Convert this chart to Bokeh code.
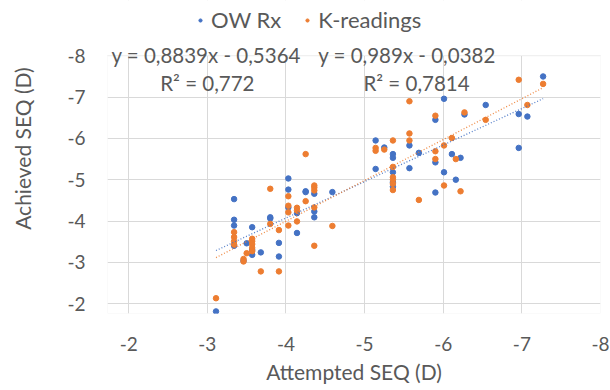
import math
from bokeh.plotting import figure
from bokeh.layouts import row
from bokeh.models import (Range1d, FixedTicker, Legend, LegendItem, Label, BoxAnnotation)
from bokeh.embed import file_html
from bokeh.resources import INLINE
import numpy as np

# ---- data ----
ow_x = [-3.11, -3.34, -3.34, -3.34, -3.34, -3.46, -3.50, -3.57, -3.57, -3.57, -3.68, -3.80, -3.80,
        -3.91, -3.91, -4.03, -4.03, -4.03, -4.14, -4.14, -4.25, -4.25, -4.36, -4.36, -4.36, -4.59,
        -5.14, -5.14, -5.25, -5.36, -5.36, -5.36, -5.36, -5.36, -5.57, -5.57, -5.69, -5.90, -5.90,
        -5.90, -6.01, -6.01, -6.11, -6.16, -6.22, -6.27, -6.54, -6.96, -6.96, -7.07, -7.27]
ow_y = [-1.81, -4.53, -4.03, -3.89, -3.40, -3.04, -3.46, -3.85, -3.30, -3.18, -3.24, -4.09, -4.06,
        -3.47, -3.14, -5.03, -4.76, -4.33, -4.19, -3.71, -4.72, -4.70, -4.66, -4.23, -4.09, -4.70,
        -5.95, -5.26, -5.78, -5.62, -5.53, -5.18, -4.94, -4.83, -5.83, -5.28, -5.65, -6.45, -5.42,
        -4.69, -6.96, -5.18, -5.62, -5.00, -5.53, -6.58, -6.81, -6.59, -5.77, -6.53, -7.50]

k_x = [-3.11, -3.34, -3.34, -3.34, -3.34, -3.46, -3.46, -3.50, -3.57, -3.57, -3.57, -3.57, -3.57,
       -3.68, -3.80, -3.80, -3.91, -3.91, -4.03, -4.03, -4.03, -4.03, -4.14, -4.14, -4.14, -4.25,
       -4.25, -4.36, -4.36, -4.36, -4.36, -4.36, -4.59, -5.14, -5.14, -5.25, -5.36, -5.36, -5.36,
       -5.36, -5.36, -5.36, -5.57, -5.57, -5.57, -5.69, -5.90, -5.90, -5.90, -6.01, -6.01, -6.11,
       -6.16, -6.22, -6.27, -6.54, -6.96, -7.07, -7.27]
k_y = [-2.13, -3.73, -3.61, -3.51, -3.43, -3.08, -3.02, -3.22, -3.57, -3.51, -3.44, -3.35, -3.27,
       -2.78, -4.78, -3.93, -3.78, -2.78, -4.60, -4.37, -4.21, -3.89, -4.32, -4.25, -3.99, -5.62,
       -4.48, -4.86, -4.81, -4.74, -4.33, -3.40, -3.88, -5.77, -5.70, -5.73, -5.95, -5.31, -5.06,
       -5.00, -4.90, -4.75, -6.90, -6.12, -5.95, -4.51, -6.55, -5.69, -5.50, -5.83, -4.86, -6.01,
       -5.50, -4.72, -6.63, -6.45, -7.42, -6.81, -7.32]

ow_slope, ow_intercept, ow_r2 = 0.8839, -0.5364, 0.772
k_slope, k_intercept, k_r2 = 0.989, -0.0382, 0.7814

x_ticks = [-2, -3, -4, -5, -6, -7, -8]
y_ticks = [-2, -3, -4, -5, -6, -7, -8]
tick_labels = ["-2", "-3", "-4", "-5", "-6", "-7", "-8"]

series_names = ["OW Rx", "K-readings"]
x_title = "Attempted SEQ (D)"
y_title = "Achieved SEQ (D)"

BLUE = "#4472C4"
ORANGE = "#ED7D31"
TXT = "#595959"
GRID = "#D9D9D9"
FONT = "Lato"

Y_TOP = -8.0  # top of the plotting area (axis maximum)

# ---- narrow strip carrying the vertical axis title (pixel coordinates, y down) ----
LW = 50
H = 390
side = figure(width=LW, height=H, output_backend="svg", toolbar_location=None,
              x_axis_location=None, y_axis_location=None,
              x_range=Range1d(0, LW), y_range=Range1d(H, 0),
              min_border_left=0, min_border_right=0, min_border_top=0, min_border_bottom=0)
side.grid.visible = False
side.outline_line_color = None
side.add_layout(Label(x=22, y=184.5, text=y_title,
                      angle=math.pi / 2, text_align="center", text_baseline="middle",
                      text_font=FONT, text_font_size="21px", text_color=TXT))

# ---- main chart ----
p = figure(width=610 - LW, height=H, output_backend="svg", toolbar_location=None,
           x_range=Range1d(-1.73, -8.0), y_range=Range1d(-1.76, -9.34))
p.min_border_left = 107 - LW
p.min_border_right = 10
p.min_border_top = 0
p.min_border_bottom = 77
p.outline_line_color = None
p.background_fill_color = "white"
p.border_fill_color = "white"

for ax, ticks in ((p.xaxis[0], x_ticks), (p.yaxis[0], y_ticks)):
    ax.ticker = FixedTicker(ticks=ticks)
    ax.major_label_overrides = {t: l for t, l in zip(ticks, tick_labels)}
    ax.axis_line_color = None
    ax.major_tick_line_color = None
    ax.minor_tick_line_color = None
    ax.major_tick_out = 0
    ax.major_tick_in = 0
    ax.minor_tick_out = 0
    ax.major_label_text_font = FONT
    ax.major_label_text_font_size = "19px"
    ax.major_label_text_color = TXT
    ax.axis_label_text_font = FONT
    ax.axis_label_text_font_size = "21px"
    ax.axis_label_text_font_style = "normal"
    ax.axis_label_text_color = TXT

p.xaxis.axis_label = x_title
p.xaxis.major_label_standoff = 23
p.yaxis.major_label_standoff = 22
p.xaxis.axis_label_standoff = 5

p.xgrid.ticker = FixedTicker(ticks=x_ticks)
p.ygrid.ticker = FixedTicker(ticks=y_ticks)
p.xgrid.grid_line_color = GRID
p.ygrid.grid_line_color = GRID

# white area above the plot area (legend / equation zone) and plot-area border
p.add_layout(BoxAnnotation(bottom=Y_TOP, fill_color="white", fill_alpha=1.0,
                           line_color=None, level="underlay"))
p.add_layout(BoxAnnotation(top=Y_TOP, fill_alpha=0.0, line_color=GRID,
                           line_width=1, level="underlay"))

r_ow = p.scatter(ow_x, ow_y, size=5.5, color=BLUE, line_color=BLUE)
r_k = p.scatter(k_x, k_y, size=5.5, color=ORANGE, line_color=ORANGE)

# trendlines (Excel linear trendline over data x extent)
for xs, slope, icpt, col in ((ow_x, ow_slope, ow_intercept, BLUE), (k_x, k_slope, k_intercept, ORANGE)):
    tx = np.array([max(xs), min(xs)])
    p.line(tx, slope * tx + icpt, line_color=col, line_width=1.3, line_dash="1 2", line_alpha=0.9)

legend = Legend(items=[LegendItem(label=series_names[0], renderers=[r_ow]),
                       LegendItem(label=series_names[1], renderers=[r_k])],
                location=(89, 280), orientation="horizontal",
                label_text_font=FONT, label_text_font_size="22px", label_text_color=TXT,
                glyph_width=8, glyph_height=26, label_height=26, label_standoff=7, spacing=22,
                padding=0, margin=0, border_line_color=None, background_fill_alpha=0)
p.add_layout(legend, "center")

def fmt(v):
    return str(v).replace(".", ",")

labels = [
    (-1.78, -8.03, f"y = {fmt(ow_slope)}x - {fmt(-ow_intercept)}", "left"),
    (-3.0, -7.35, f"R² = {fmt(ow_r2)}", "center"),
    (-4.41, -8.03, f"y = {fmt(k_slope)}x - {fmt(-k_intercept)}", "left"),
    (-5.66, -7.35, f"R² = {fmt(k_r2)}", "center"),
]
for lx, ly, txt, align in labels:
    p.add_layout(Label(x=lx, y=ly, text=txt, text_align=align, text_baseline="middle",
                       text_font=FONT, text_font_size="20.5px", text_color=TXT))

layout = row(side, p, spacing=0)
open("out.html", "w").write(file_html(layout, INLINE))
